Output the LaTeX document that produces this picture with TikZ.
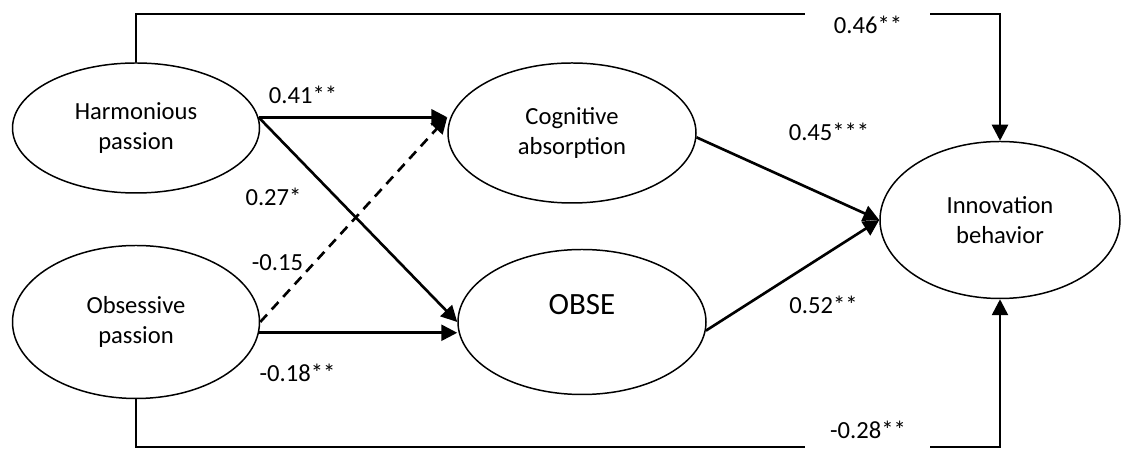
\documentclass[tikz,border=0pt]{standalone}
\usepackage{fontspec}
\setmainfont{Carlito}
\usetikzlibrary{arrows.meta, shapes.geometric, calc}

\begin{document}
\begin{tikzpicture}[
    every node/.style={font=\fontsize{14}{17.5}\selectfont},
    latent/.style={draw, ellipse, line width=0.85pt, align=center, inner sep=0pt},
    coef/.style={inner sep=1pt},
    link/.style={line width=1.5pt},
    arrow/.style={-{Triangle[length=0.32cm, width=0.32cm]}, line width=1.5pt}
]
\useasboundingbox (0,0) rectangle (22.48,8.98);

\node[latent, minimum width=4.94cm, minimum height=2.60cm] (hp) at (2.72,6.42) {Harmonious\\passion};
\node[latent, minimum width=4.94cm, minimum height=3.06cm] (op) at (2.72,2.54) {Obsessive\\passion};
\node[latent, minimum width=4.96cm, minimum height=2.80cm] (ca) at (11.44,6.32) {Cognitive\\absorption};
\node[latent, minimum width=4.96cm, minimum height=2.90cm,
      label={[font=\fontsize{17.6}{21}\selectfont, yshift=0.34cm]center:OBSE}] (obse) at (11.64,2.54) {};
\node[latent, minimum width=4.80cm, minimum height=3.14cm] (ib) at (20.00,4.58) {Innovation\\behavior};

\coordinate (caIn) at (hp.5 -| ca.west);
\coordinate (topL) at (16.10,8.70);
\coordinate (topR) at (18.60,8.70);
\coordinate (botL) at (16.10,0.04);
\coordinate (botR) at (18.60,0.04);

% direct paths round the outside
\draw[link] (hp.north) |- (topL);
\draw[arrow] (topR) -| (ib.north);
\draw[link] (op.south) |- (botL);
\draw[arrow] (botR) -| (ib.south);

% paths to the mediators
\draw[arrow] (hp.5) -- (caIn);
\draw[arrow] (hp.5) -- (obse.west);
\draw[arrow, dash pattern=on 0.2cm off 0.14cm] (op.east) -- (caIn);
\draw[arrow] (op.-5) -- (op.-5 -| obse.west);

% paths to the outcome
\draw[arrow] (ca.-2) -- (ib.west);
\draw[arrow] (obse.-4) -- (ib.west);

\node[coef] (c1) at (6.06,7.08) {0.41**};
\node[coef] (c2) at (5.47,5.04) {0.27*};
\node[coef] (c3) at (5.55,3.72) {-0.15};
\node[coef] (c4) at (5.95,1.52) {-0.18**};
\node[coef] (c5) at (16.58,6.34) {0.45***};
\node[coef] (c6) at (16.47,2.88) {0.52**};
\node[coef] (c7) at (17.36,8.48) {0.46**};
\node[coef] (c8) at (17.36,0.38) {-0.28**};
\end{tikzpicture}
\end{document}
